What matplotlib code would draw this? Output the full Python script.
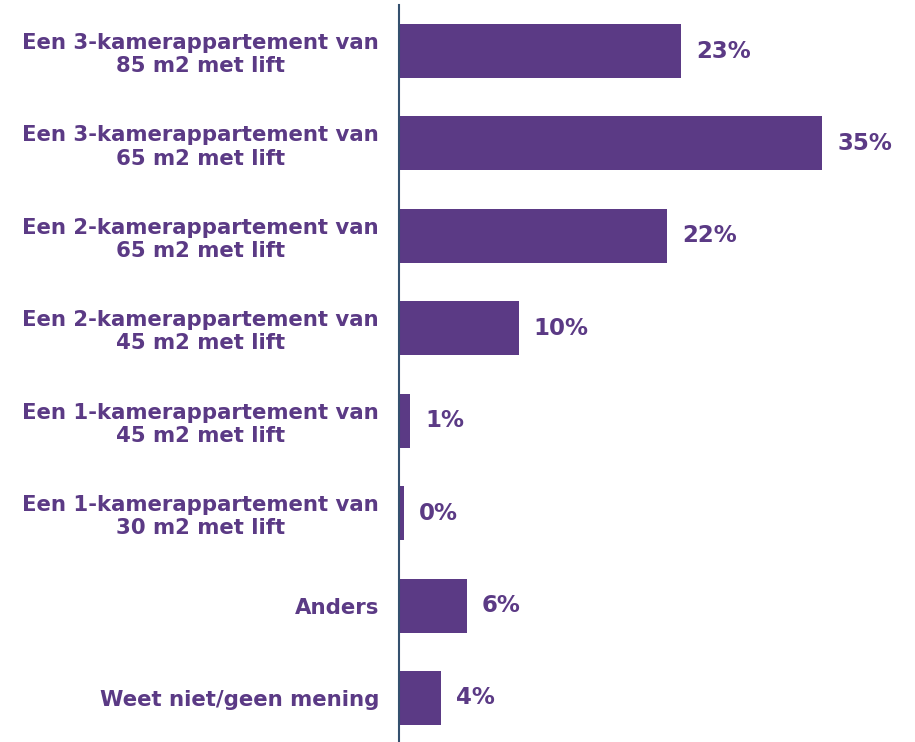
import matplotlib.pyplot as plt

# woningtype voorkeur, percentages per antwoordcategorie
categories = [
    "Een 3-kamerappartement van\n85 m2 met lift",
    "Een 3-kamerappartement van\n65 m2 met lift",
    "Een 2-kamerappartement van\n65 m2 met lift",
    "Een 2-kamerappartement van\n45 m2 met lift",
    "Een 1-kamerappartement van\n45 m2 met lift",
    "Een 1-kamerappartement van\n30 m2 met lift",
    "Anders",
    "Weet niet/geen mening",
]
values = [23.3, 35.0, 22.2, 9.9, 0.9, 0.4, 5.6, 3.5]

purple = "#5b3a85"
axis_col = "#34506e"

fig = plt.figure(figsize=(9.15, 7.42), dpi=100)
ax = fig.add_axes([399 / 915, -2.2 / 742, 483.6 / 915, 739.4 / 742])

ypos = list(range(len(categories)))
ax.barh(ypos, values, height=0.584, color=purple)

for y, v in zip(ypos, values):
    ax.text(v + 1.25, y, f"{v:.0f}%", va="center", ha="left",
            fontsize=16.5, fontweight="bold", color=purple)

ax.set_xlim(0, 40)
ax.set_ylim(len(categories) - 0.5, -0.5)
ax.set_yticks(ypos)
ax.set_yticklabels(categories, fontsize=15.3, fontweight="bold",
                   color=purple, multialignment="center", linespacing=1.2)
ax.tick_params(axis="y", length=0, pad=14.4)
ax.set_xticks([])

for s in ["top", "right", "bottom"]:
    ax.spines[s].set_visible(False)
ax.spines["left"].set_color(axis_col)
ax.spines["left"].set_linewidth(1.5)

fig.savefig("out.png", dpi=100)
